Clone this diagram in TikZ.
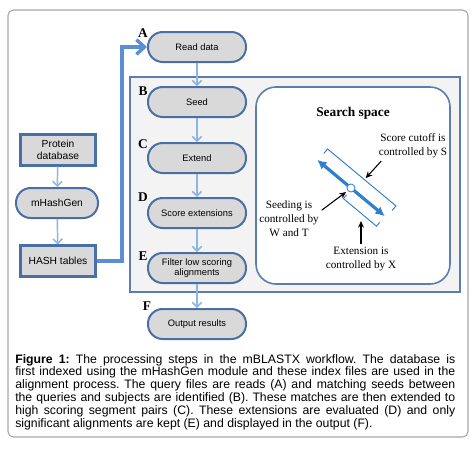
\documentclass[tikz,border=0pt]{standalone}
\usepackage{fontspec}
\setmainfont{Liberation Serif}
\setsansfont{Liberation Sans}
\usepackage{tikz}
\usetikzlibrary{arrows,arrows.meta}

\definecolor{boxfill}{HTML}{D9D9D9}
\definecolor{boxline}{HTML}{4A6FA5}
\definecolor{flowline}{HTML}{8EB4E3}
\definecolor{mainline}{HTML}{5B8FD4}
\definecolor{panelfill}{HTML}{F3F3F3}
\definecolor{panelline}{HTML}{5A7DB3}
\definecolor{spaceblue}{HTML}{2F80CF}
\definecolor{framegray}{HTML}{A6A6A6}

\begin{document}
\begin{tikzpicture}[x=0.75pt, y=-0.75pt,
  stepnode/.style={draw=boxline, fill=boxfill, line width=1.5pt, rounded corners=11pt,
    minimum width=73.5pt, minimum height=22.5pt, inner sep=1pt, align=center,
    font=\sffamily\fontsize{7}{8}\selectfont},
  dbbox/.style={draw=boxline, fill=boxfill, line width=1.8pt, minimum width=56pt,
    minimum height=23pt, inner sep=1pt, align=center, font=\sffamily\fontsize{7.7}{9}\selectfont},
  steplabel/.style={inner sep=0pt, font=\bfseries\fontsize{10}{10}\selectfont},
  flow/.style={draw=flowline, line width=1.1pt, -{Straight Barb[length=3.5pt,width=7pt]}},
  note/.style={inner sep=2pt, align=center, font=\fontsize{8.4}{10.5}\selectfont},
  pointer/.style={line width=0.8pt, -{Stealth[length=5pt,width=4.5pt]}}]

\fill[white] (0,0) rectangle (476,454);
\useasboundingbox (0,0) rectangle (476,454);
\draw[framegray, line width=0.8pt, rounded corners=4pt] (8,10) rectangle (468,437);

\draw[draw=panelline, fill=panelfill, line width=1.3pt] (130,77) rectangle (460,292);
\draw[draw=panelline, fill=white, line width=1.2pt, rounded corners=15pt] (256,87) rectangle (450,284);

\node[stepnode] at (197,47) (read) {Read data};
\node[stepnode] at (197,102) (seed) {Seed};
\node[stepnode] at (197,158) (extend) {Extend};
\node[stepnode] at (197,213) (score) {Score extensions};
\node[stepnode] at (197,268) (filter) {Filter low scoring\\alignments};
\node[stepnode] at (197,324) (output) {Output results};

\node[steplabel] at (143,33) (labA) {A};
\node[steplabel] at (143,91) (labB) {B};
\node[steplabel] at (143,144) (labC) {C};
\node[steplabel] at (143,197) (labD) {D};
\node[steplabel] at (143,256) (labE) {E};
\node[steplabel] at (147,306) (labF) {F};

\node[dbbox] at (58,150) (protein) {Protein\\database};
\node[stepnode, minimum width=61.5pt, font=\sffamily\fontsize{7.7}{9}\selectfont] at (57,203) (hashgen) {mHashGen};
\node[dbbox] at (58,261) (hash) {HASH tables};

\draw[flow] (read) -- (seed);
\draw[flow] (seed) -- (extend);
\draw[flow] (extend) -- (score);
\draw[flow] (score) -- (filter);
\draw[flow] (filter) -- (output);
\draw[flow] (protein) -- (hashgen);
\draw[flow] (hashgen) -- (hash);

\coordinate (bend) at (122,47);
\draw[mainline, line width=2.6pt, -{Straight Barb[length=6pt,width=11pt]}]
  (hash.east) -| (bend) -- (read.west);

\node[font=\bfseries\fontsize{10}{12}\selectfont] at (353,113) (sstitle) {Search space};
\node[note] at (413,146) (cutofftext) {Score cutoff is\\controlled by S};
\node[note] at (289,219) (seedtext) {Seeding is\\controlled by\\W and T};
\node[note] at (361,259) (exttext) {Extension is\\controlled by X};

\begin{scope}[shift={(351,188)}, rotate=-39.8]
  \draw[spaceblue, line width=2.4pt, {Latex[length=7pt,width=7pt]}-{Latex[length=7pt,width=7pt]}]
    (-44,0) -- (44,0);
  \draw[spaceblue, line width=0.7pt] (-43,-9) -- (-43,-15) -- (46,-15) -- (46,-9);
  \draw[spaceblue, line width=0.7pt] (1,8) -- (1,13) -- (44,13) -- (44,8);
  \node[circle, draw=spaceblue, fill=white, line width=0.6pt, inner sep=0pt, minimum size=6pt]
    at (0,0) (seedpt) {};
  \coordinate (cutoffmark) at (5,-17);
\end{scope}
\coordinate (extmark) at (361,221);

\draw[pointer] ([xshift=4pt]cutofftext.south west) -- (cutoffmark);
\draw[pointer, shorten >=1.5pt] (seedtext.15) -- (seedpt.220);
\draw[pointer] (exttext.north) -- (extmark);

\node[anchor=north west, inner sep=0pt, text width=330pt, align=justify,
  font=\sffamily\fontsize{9.2}{8.4}\selectfont] at (15,354) (caption)
  {\frenchspacing\hyphenpenalty=10000 \textbf{Figure 1:} The processing steps in the mBLASTX workflow. The database is\linebreak
  first indexed using the mHashGen module and these index files are used in the\linebreak
  alignment process. The query files are reads (A) and matching seeds between\linebreak
  the queries and subjects are identified (B). These matches are then extended to\linebreak
  high scoring segment pairs (C). These extensions are evaluated (D) and only\linebreak
  significant alignments are kept (E) and displayed in the output (F).};
\end{tikzpicture}
\end{document}
